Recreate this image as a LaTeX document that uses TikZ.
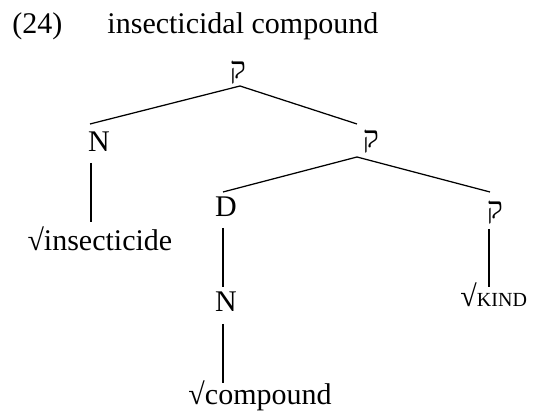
\documentclass[tikz,border=0pt]{standalone}
\usepackage{fontspec}
\setmainfont{Liberation Serif}
\newfontfamily\hebfont[Script=Hebrew]{Liberation Serif}
\newcommand{\qof}{{\hebfont ק}}
\begin{document}
\begin{tikzpicture}[x=0.4pt,y=-0.4pt,
  lab/.style={anchor=base,inner sep=0pt,font=\fontsize{12}{14}\selectfont},
  branch/.style={line width=0.5pt}]
\useasboundingbox (0,0) rectangle (535,417);
% example number and gloss
\node[lab,anchor=base west] (num) at (12,34) {(24)};
\node[lab,anchor=base west] (gloss) at (107,34) {insecticidal compound};
% tree labels
\node[lab] (q0) at (238,79) {\qof};
\node[lab] (n1) at (99,152) {N};
\node[lab] (q1) at (371,148) {\qof};
\node[lab,anchor=base west] (r1) at (27,251) {√insecticide};
\node[lab] (d) at (226,217) {D};
\node[lab] (q2) at (495,219) {\qof};
\node[lab] (n2) at (226,312) {N};
\node[lab,anchor=base west] (r3) at (460,307) {√{\fontsize{8}{9.6}\selectfont KIND}};
\node[lab,anchor=base west] (r2) at (188,405) {√compound};
% attachment points of the branches
\coordinate (q0b) at (240,86);
\coordinate (n1t) at (90,124);
\coordinate (n1b) at (91,163);
\coordinate (r1t) at (91,222);
\coordinate (q1t) at (357,124);
\coordinate (q1b) at (357,157);
\coordinate (dt) at (223,192);
\coordinate (db) at (223,228);
\coordinate (n2t) at (223,287);
\coordinate (n2b) at (223,324);
\coordinate (r2t) at (223,383);
\coordinate (q2t) at (490,192);
\coordinate (q2b) at (489,229);
\coordinate (r3t) at (489,287);
% branches
\draw[branch] (n1t) -- (q0b) -- (q1t);
\draw[branch] (n1b) -- (r1t);
\draw[branch] (dt) -- (q1b) -- (q2t);
\draw[branch] (db) -- (n2t);
\draw[branch] (n2b) -- (r2t);
\draw[branch] (q2b) -- (r3t);
\end{tikzpicture}
\end{document}
